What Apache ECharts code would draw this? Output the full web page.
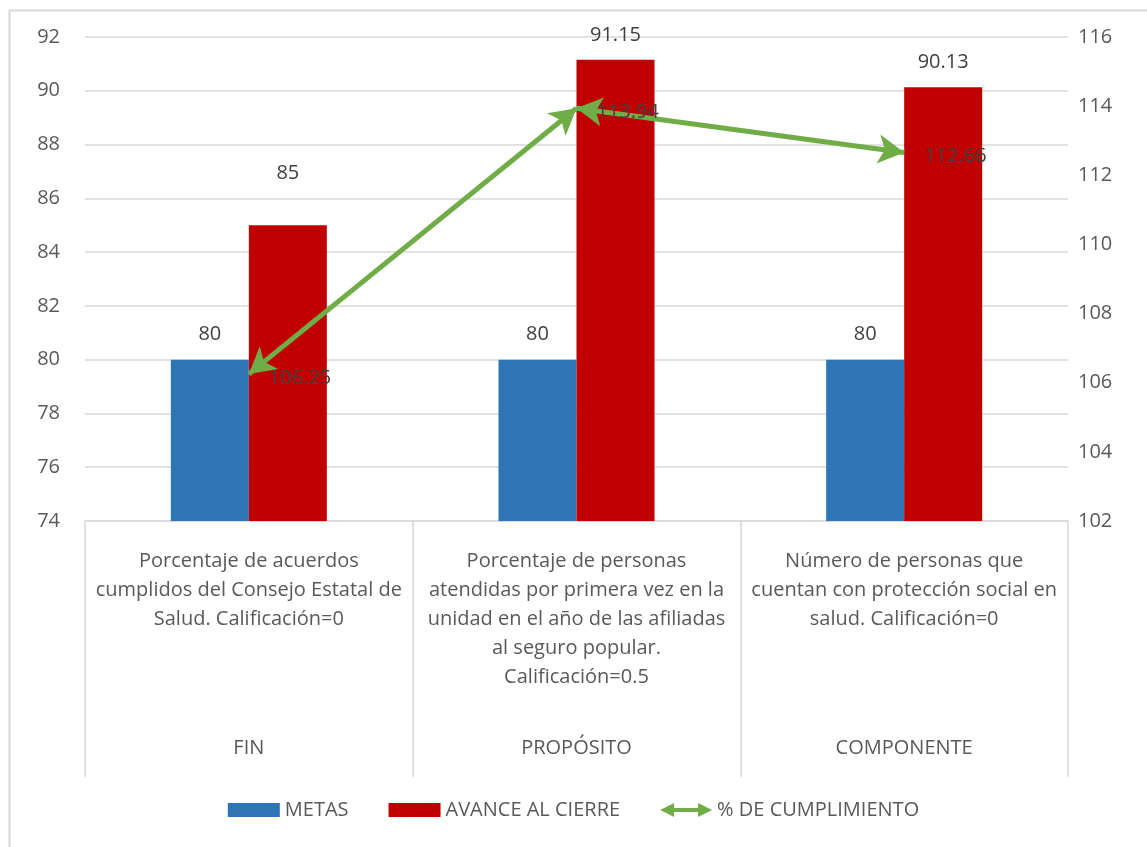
<!DOCTYPE html>
<html>
<head>
<meta charset="utf-8">
<script src="https://cdn.jsdelivr.net/npm/echarts@6/dist/echarts.min.js"></script>
<style>
html,body{margin:0;padding:0;background:#fff;}
#chart{width:1147px;height:847px;}
</style>
</head>
<body>
<div id="chart"></div>
<script>
const categories = [
  "Porcentaje de acuerdos\ncumplidos del Consejo Estatal de\nSalud. Calificación=0",
  "Porcentaje de personas\natendidas por primera vez en la\nunidad en el año de las afiliadas\nal seguro popular.\nCalificación=0.5",
  "Número de personas que\ncuentan con protección social en\nsalud. Calificación=0"
];
const levels = ["FIN", "PROPÓSITO", "COMPONENTE"];
const metas = [80, 80, 80];
const avance = [85, 91.15, 90.13];
const cumplimiento = [106.25, 113.94, 112.66];
const seriesNames = ["METAS", "AVANCE AL CIERRE", "% DE CUMPLIMIENTO"];

const FONT = "'Open Sans', 'Noto Sans', sans-serif";
const TXT = '#595959';
const LBL = '#404040';
const GRID = '#d9d9d9';
const FS = 20;

const segs = [];
for (let i = 0; i < cumplimiento.length - 1; i++) {
  segs.push([{coord: [i, cumplimiento[i]]}, {coord: [i + 1, cumplimiento[i + 1]]}]);
}
// the first "AVANCE" label sits higher in the reference (moved clear of the arrow)
const avanceData = avance.map((v, i) => i === 0 ? {value: v, label: {distance: 42}} : v);

const chart = echarts.init(document.getElementById('chart'), null, {renderer: 'canvas'});
chart.setOption({
  backgroundColor: '#fff',
  animation: false,
  textStyle: {fontFamily: FONT},
  graphic: [{
    type: 'rect', left: 7, top: 8, z: -10,
    shape: {x: 0, y: 0, width: 1200, height: 900},
    style: {fill: 'none', stroke: GRID, lineWidth: 2}
  }],
  grid: {left: 85, right: 79, top: 37, bottom: 326, containLabel: false},
  legend: {
    bottom: 22, left: 'center', itemGap: 40,
    itemWidth: 52, itemHeight: 14,
    textStyle: {fontSize: FS, color: TXT, fontFamily: FONT},
    data: [
      {name: seriesNames[0], icon: 'rect'},
      {name: seriesNames[1], icon: 'rect'},
      {name: seriesNames[2], icon: 'path://M0,7 L14,0 L14,5 L38,5 L38,0 L52,7 L38,14 L38,9 L14,9 L14,14 Z'}
    ]
  },
  xAxis: [{
    type: 'category', data: categories, position: 'bottom',
    axisLine: {lineStyle: {color: GRID, width: 1.5}},
    axisTick: {show: true, length: 256, lineStyle: {color: GRID, width: 1.5}},
    axisLabel: {color: TXT, fontSize: FS, lineHeight: 29, margin: 26, interval: 0, fontFamily: FONT}
  }, {
    type: 'category', data: levels, position: 'bottom',
    axisLine: {show: false}, axisTick: {show: false},
    axisLabel: {color: TXT, fontSize: FS, lineHeight: 24, margin: 215, interval: 0, fontFamily: FONT}
  }],
  yAxis: [{
    type: 'value', min: 74, max: 92, interval: 2,
    axisLine: {show: false}, axisTick: {show: false},
    splitLine: {lineStyle: {color: GRID, width: 1.5}},
    axisLabel: {color: TXT, fontSize: FS, margin: 25, fontFamily: FONT}
  }, {
    type: 'value', min: 102, max: 116, interval: 2, position: 'right',
    axisLine: {show: false}, axisTick: {show: false},
    splitLine: {show: false},
    axisLabel: {color: TXT, fontSize: FS, margin: 10, fontFamily: FONT}
  }],
  series: [{
    name: seriesNames[0], type: 'bar', data: metas, barWidth: 78, barGap: '0%',
    itemStyle: {color: '#2e75b6'},
    label: {show: true, position: 'top', distance: 15, color: LBL, fontSize: FS, fontFamily: FONT}
  }, {
    name: seriesNames[1], type: 'bar', data: avanceData, barWidth: 78, barGap: '0%',
    itemStyle: {color: '#c00000'},
    label: {show: true, position: 'top', distance: 15, color: LBL, fontSize: FS, fontFamily: FONT}
  }, {
    name: seriesNames[2], type: 'line', yAxisIndex: 1, data: cumplimiento,
    symbol: 'circle', symbolSize: 0, showSymbol: true,
    lineStyle: {opacity: 0, width: 4}, itemStyle: {color: '#70ad47'}, z: 5,
    label: {show: true, position: 'right', distance: 20, offset: [0, 4], color: LBL, opacity: 1, fontSize: FS, fontFamily: FONT},
    markLine: {
      silent: true, symbol: ['arrow', 'arrow'], symbolSize: [22, 26],
      lineStyle: {color: '#70ad47', width: 5, type: 'solid'},
      label: {show: false},
      data: segs
    }
  }]
});
</script>
</body>
</html>
